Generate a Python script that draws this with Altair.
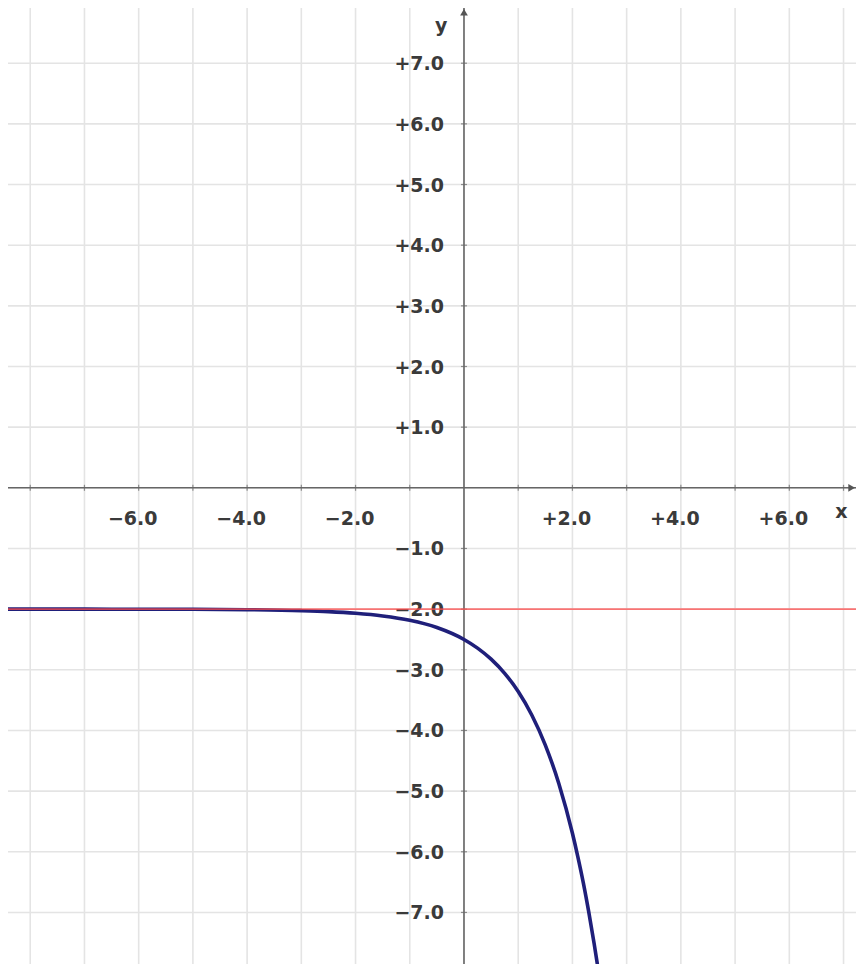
import altair as alt
import pandas as pd

# visible window of the coordinate plane
X_MIN, X_MAX = -8.41, 7.23
Y_MIN, Y_MAX = -7.85, 7.91

# curve
curve_x = [-8.41, -7.0, -6.0, -5.0, -4.0, -3.0, -2.5, -2.0, -1.5, -1.0, -0.5,
           0.0, 0.25, 0.5, 0.75, 1.0, 1.25, 1.5, 1.75, 2.0, 2.1, 2.2, 2.3,
           2.4, 2.47]
curve_y = [-2.0001, -2.0005, -2.0012, -2.003, -2.009, -2.025, -2.041, -2.068,
           -2.112, -2.184, -2.303, -2.50, -2.642, -2.824, -3.058, -3.359,
           -3.745, -4.241, -4.877, -5.695, -6.083, -6.508, -6.987, -7.512,
           -7.91]

asymptote_y = -2.0

grid_x = list(range(-8, 8))
grid_y = list(range(-7, 8))
tick_x = [v for v in grid_x if v != 0]
tick_y = [v for v in grid_y if v != 0]

xlabel_vals = [-6, -4, -2, 2, 4, 6]
xlabel_text = ["−6.0", "−4.0", "−2.0", "+2.0", "+4.0", "+6.0"]
ylabel_vals = [7, 6, 5, 4, 3, 2, 1, -1, -2, -3, -4, -5, -6, -7]
ylabel_text = ["+7.0", "+6.0", "+5.0", "+4.0", "+3.0", "+2.0", "+1.0",
               "−1.0", "−2.0", "−3.0", "−4.0", "−5.0", "−6.0", "−7.0"]

xs = alt.Scale(domain=[X_MIN, X_MAX], nice=False, zero=False)
ys = alt.Scale(domain=[Y_MIN, Y_MAX], nice=False, zero=False)

def X(f="x"):
    return alt.X(f"{f}:Q", scale=xs, axis=None)

def Y(f="y"):
    return alt.Y(f"{f}:Q", scale=ys, axis=None)

FONT = "DejaVu Sans"
TXT = "#3a3a3a"
FS = 19

gx = pd.DataFrame({"x": grid_x, "y": Y_MIN, "y2": Y_MAX})
gy = pd.DataFrame({"y": grid_y, "x": X_MIN, "x2": X_MAX})
grid_v = alt.Chart(gx).mark_rule(color="#e4e4e4", strokeWidth=1.6).encode(
    x=X(), y=Y(), y2="y2:Q")
grid_h = alt.Chart(gy).mark_rule(color="#e4e4e4", strokeWidth=1.6).encode(
    y=Y(), x=X(), x2="x2:Q")

axes_df = pd.DataFrame({"x": [X_MIN, 0.0], "x2": [X_MAX, 0.0],
                        "y": [0.0, Y_MIN], "y2": [0.0, Y_MAX]})
axes = alt.Chart(axes_df).mark_rule(color="#666666", strokeWidth=1.6).encode(
    x=X(), x2="x2:Q", y=Y(), y2="y2:Q")

tx = pd.DataFrame({"x": tick_x, "y": 0.0})
ty = pd.DataFrame({"y": tick_y, "x": 0.0})
ticks_x = alt.Chart(tx).mark_tick(orient="vertical", size=6, thickness=1.2,
                                  color="#666666").encode(x=X(), y=Y())
ticks_y = alt.Chart(ty).mark_tick(orient="horizontal", size=6, thickness=1.2,
                                  color="#666666").encode(x=X(), y=Y())

arrows_df = pd.DataFrame({"x": [X_MAX - 0.08, 0.0], "y": [0.0, Y_MAX - 0.07],
                          "shape": ["triangle-right", "triangle-up"]})
arrows = alt.Chart(arrows_df).mark_point(filled=True, size=60, opacity=1,
                                         color="#555555").encode(
    x=X(), y=Y(), shape=alt.Shape("shape:N", scale=None, legend=None))

xl = pd.DataFrame({"x": xlabel_vals, "y": 0.0, "t": xlabel_text})
yl = pd.DataFrame({"y": ylabel_vals, "x": 0.0, "t": ylabel_text})
xlabels = alt.Chart(xl).mark_text(align="center", baseline="middle", dx=-6,
                                  dy=31, fontSize=FS, fontWeight="bold",
                                  font=FONT, color=TXT).encode(
    x=X(), y=Y(), text="t:N")
ylabels = alt.Chart(yl).mark_text(align="right", baseline="middle", dx=-20,
                                  dy=1, fontSize=FS, fontWeight="bold",
                                  font=FONT, color=TXT).encode(
    x=X(), y=Y(), text="t:N")

titles_df = pd.DataFrame({"x": [6.96, -0.42], "y": [0.0, 7.62],
                          "t": ["x", "y"]})
title_x = alt.Chart(titles_df.iloc[[0]]).mark_text(
    align="center", baseline="middle", dy=24, fontSize=FS, fontWeight="bold",
    font=FONT, color=TXT).encode(x=X(), y=Y(), text="t:N")
title_y = alt.Chart(titles_df.iloc[[1]]).mark_text(
    align="center", baseline="middle", fontSize=FS, fontWeight="bold",
    font=FONT, color=TXT).encode(x=X(), y=Y(), text="t:N")

curve_df = pd.DataFrame({"x": curve_x, "y": curve_y})
curve = alt.Chart(curve_df).mark_line(color="#1f1f7a", strokeWidth=3.6,
                                      interpolate="monotone", clip=True).encode(
    x=X(), y=Y(), order="x:Q")

asym_df = pd.DataFrame({"x": [X_MIN], "x2": [X_MAX], "y": [asymptote_y]})
asym = alt.Chart(asym_df).mark_rule(color="#ff4d4d", strokeWidth=1.6,
                                    opacity=0.75).encode(
    x=X(), x2="x2:Q", y=Y())

chart = alt.layer(
    grid_v, grid_h, axes, ticks_x, ticks_y, arrows, xlabels, ylabels,
    title_x, title_y, curve, asym
).properties(
    width=848, height=956,
    autosize=alt.AutoSizeParams(type="none"),
    padding=0,
).configure_view(stroke=None)

chart.save("out.html", embed_options={"renderer": "svg", "actions": False})
